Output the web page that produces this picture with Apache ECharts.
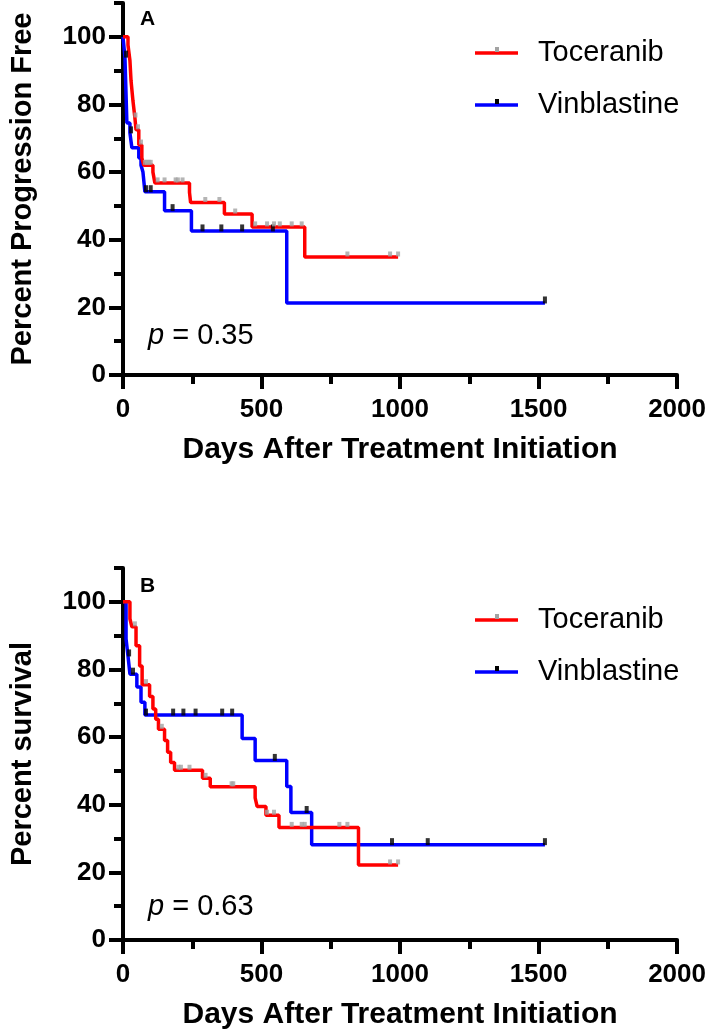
<!DOCTYPE html>
<html><head><meta charset="utf-8">
<script src="https://cdn.jsdelivr.net/npm/echarts@6/dist/echarts.min.js"></script>
<style>html,body{margin:0;padding:0;background:#fff}#c{width:709px;height:1035px}</style>
</head><body><div id="c"></div>
<script>
// ---- data ----
const seriesNames = ['Toceranib', 'Vinblastine'];
const xTicks = [0, 500, 1000, 1500, 2000];
const yTicks = [0, 20, 40, 60, 80, 100];
const panelLetters = ['A', 'B'];
const pValues = ['0.35', '0.63'];
const yTitles = ['Percent Progression Free', 'Percent survival'];
const xTitle = 'Days After Treatment Initiation';

// Panel A: progression free
const pfsTocDays = [0, 18, 25, 29, 36, 43, 47, 57, 68, 75, 108, 115, 240, 244, 366, 466, 656, 993];
const pfsTocPct  = [100, 97.6, 93, 87, 81, 76, 72.5, 68, 64.2, 62, 60, 56.8, 54, 51, 47.6, 43.8, 34.9, 34.9];
const pfsTocCensor = [45, 54, 65, 79, 86, 93, 100, 125, 150, 190, 198, 215, 297, 348, 405, 477, 520, 545, 566, 609, 645, 810, 964, 993];

const pfsVinDays = [0, 7, 14, 25, 32, 57, 65, 72, 79, 150, 247, 591, 1523];
const pfsVinPct  = [100, 94, 74.5, 71.6, 67.2, 64.2, 62, 60, 54.2, 48.6, 42.6, 21.3, 21.3];
const pfsVinCensor = [11, 29, 83, 100, 179, 287, 355, 430, 541, 1523];

// Panel B: survival
const osTocDays = [0, 25, 32, 47, 60, 69, 96, 108, 118, 128, 150, 161, 172, 186, 287, 315, 477, 484, 516, 563, 850, 993];
const osTocPct  = [100, 95, 92.6, 87, 81, 75.5, 72, 68.3, 65.3, 62.3, 59, 55.5, 52.5, 50.2, 47.8, 45.3, 42, 39.5, 36.9, 33.3, 22.2, 22.2];
const osTocCensor = [43, 83, 140, 200, 209, 240, 298, 392, 398, 520, 545, 609, 645, 656, 781, 810, 964, 993];

const osVinDays = [0, 11, 18, 25, 50, 65, 79, 430, 477, 591, 606, 681, 1523];
const osVinPct  = [100, 89, 84, 78.6, 74.8, 70.3, 66.5, 59.6, 53.1, 45.4, 37.7, 28.2, 28.2];
const osVinCensor = [22, 36, 83, 181, 218, 262, 358, 394, 548, 663, 971, 1100, 1523];

// ---- helpers ----
function curve(days, pct) { return days.map((d, i) => [d, pct[i]]); }
function censorPts(cs, days, pct) {
  return cs.map(c => {
    let v = pct[0];
    for (let i = 0; i < days.length; i++) { if (days[i] <= c) v = pct[i]; }
    return [c, v];
  });
}

const RED = '#ff0000', BLUE = '#0000ff', GRAY = '#a3a3a3', BLACK = '#000000';
const FONT = 'Liberation Sans, Arial, Helvetica, sans-serif';

const panels = [
  { toc: [pfsTocDays, pfsTocPct, pfsTocCensor], vin: [pfsVinDays, pfsVinPct, pfsVinCensor] },
  { toc: [osTocDays, osTocPct, osTocCensor], vin: [osVinDays, osVinPct, osVinCensor] }
];

const grids = [
  { left: 120, right: 28, top: 3, bottom: 660 },
  { left: 120, right: 28, top: 568, bottom: 95 }
];

const xAxes = [], yAxes = [], series = [];
grids.forEach((g, gi) => {
  xAxes.push({
    gridIndex: gi, type: 'value', position: 'bottom', min: 0, max: 2000, interval: 500,
    axisLine: { lineStyle: { color: BLACK, width: 4 } },
    axisTick: { length: 14, customValues: xTicks, lineStyle: { color: BLACK, width: 4 } },
    axisLabel: { customValues: xTicks, formatter: v => String(v), color: BLACK, fontSize: 26, fontWeight: 'bold', fontFamily: FONT, margin: 22 },
    splitLine: { show: false },
    name: xTitle, nameLocation: 'middle', nameGap: 60,
    nameTextStyle: { color: BLACK, fontSize: 30, fontWeight: 'bold', fontFamily: FONT }
  });
  xAxes.push({
    gridIndex: gi, type: 'value', position: 'bottom', offset: 0, min: 0, max: 2000, interval: 250,
    axisLine: { show: false },
    axisTick: { length: 9, lineStyle: { color: BLACK, width: 4 } },
    axisLabel: { show: false }, splitLine: { show: false }
  });
  yAxes.push({
    gridIndex: gi, type: 'value', position: 'left', min: 0, max: 110, interval: 20,
    axisLine: { lineStyle: { color: BLACK, width: 4 } },
    axisTick: { length: 14, customValues: yTicks, lineStyle: { color: BLACK, width: 4 } },
    axisLabel: { customValues: yTicks, formatter: v => String(v), color: BLACK, fontSize: 26, fontWeight: 'bold', fontFamily: FONT, margin: 17 },
    splitLine: { show: false },
    name: yTitles[gi], nameLocation: 'middle', nameGap: 86,
    nameTextStyle: { color: BLACK, fontSize: 29, fontWeight: 'bold', fontFamily: FONT }
  });
  yAxes.push({
    gridIndex: gi, type: 'value', position: 'left', offset: 0, min: 0, max: 110, interval: 10,
    axisLine: { show: false },
    axisTick: { length: 9, lineStyle: { color: BLACK, width: 4 } },
    axisLabel: { show: false }, splitLine: { show: false }
  });

  const p = panels[gi];
  const xi = gi * 2, yi = gi * 2;
  series.push({
    name: seriesNames[1], type: 'line', step: 'end', xAxisIndex: xi, yAxisIndex: yi,
    data: curve(p.vin[0], p.vin[1]), showSymbol: false, symbol: 'none',
    lineStyle: { color: BLUE, width: 3.5 }, z: 2
  });
  series.push({
    name: seriesNames[0], type: 'line', step: 'end', xAxisIndex: xi, yAxisIndex: yi,
    data: curve(p.toc[0], p.toc[1]), showSymbol: false, symbol: 'none',
    lineStyle: { color: RED, width: 3.5 }, z: 3
  });
  series.push({
    name: seriesNames[1] + ' censored', type: 'scatter', xAxisIndex: xi, yAxisIndex: yi,
    data: censorPts(p.vin[2], p.vin[0], p.vin[1]), symbol: 'rect', symbolSize: [4, 7], symbolOffset: [0, -3],
    itemStyle: { color: BLACK }, z: 4
  });
  series.push({
    name: seriesNames[0] + ' censored', type: 'scatter', xAxisIndex: xi, yAxisIndex: yi,
    data: censorPts(p.toc[2], p.toc[0], p.toc[1]), symbol: 'rect', symbolSize: [4, 5], symbolOffset: [0, -3],
    itemStyle: { color: GRAY }, z: 5
  });
});

// graphic: panel letters, p-values, legends
const graphic = [];
const panelTop = [0, 567];
[0, 1].forEach(gi => {
  const t = panelTop[gi];
  graphic.push({ type: 'text', left: 140, top: t + 9,
    style: { text: panelLetters[gi], font: 'bold 21px ' + FONT, fill: BLACK } });
  graphic.push({ type: 'text', x: 148, y: t + 336 + (gi ? 4 : 0),
    style: { text: '{i|p} = ' + pValues[gi], font: '29px ' + FONT, fill: BLACK, verticalAlign: 'middle',
      rich: { i: { fontStyle: 'italic', fontSize: 29, fontFamily: FONT } } } });
  const ly = gi === 0 ? [53, 105] : [620, 672];
  const cols = [[RED, GRAY], [BLUE, BLACK]];
  [0, 1].forEach(k => {
    graphic.push({ type: 'line', shape: { x1: 475, y1: ly[k], x2: 518, y2: ly[k] },
      style: { stroke: cols[k][0], lineWidth: 3.5 } });
    graphic.push({ type: 'rect', shape: { x: 495, y: ly[k] - 6, width: 4, height: 5 },
      style: { fill: cols[k][1] }, z: 10 });
    graphic.push({ type: 'text', x: 538, y: ly[k],
      style: { text: seriesNames[k], font: '29px ' + FONT, fill: BLACK, verticalAlign: 'middle' } });
  });
});

const chart = echarts.init(document.getElementById('c'), null, { renderer: 'canvas' });
chart.setOption({
  animation: false,
  backgroundColor: '#ffffff',
  grid: grids,
  xAxis: xAxes,
  yAxis: yAxes,
  series: series,
  graphic: graphic
});
</script>
</body></html>
